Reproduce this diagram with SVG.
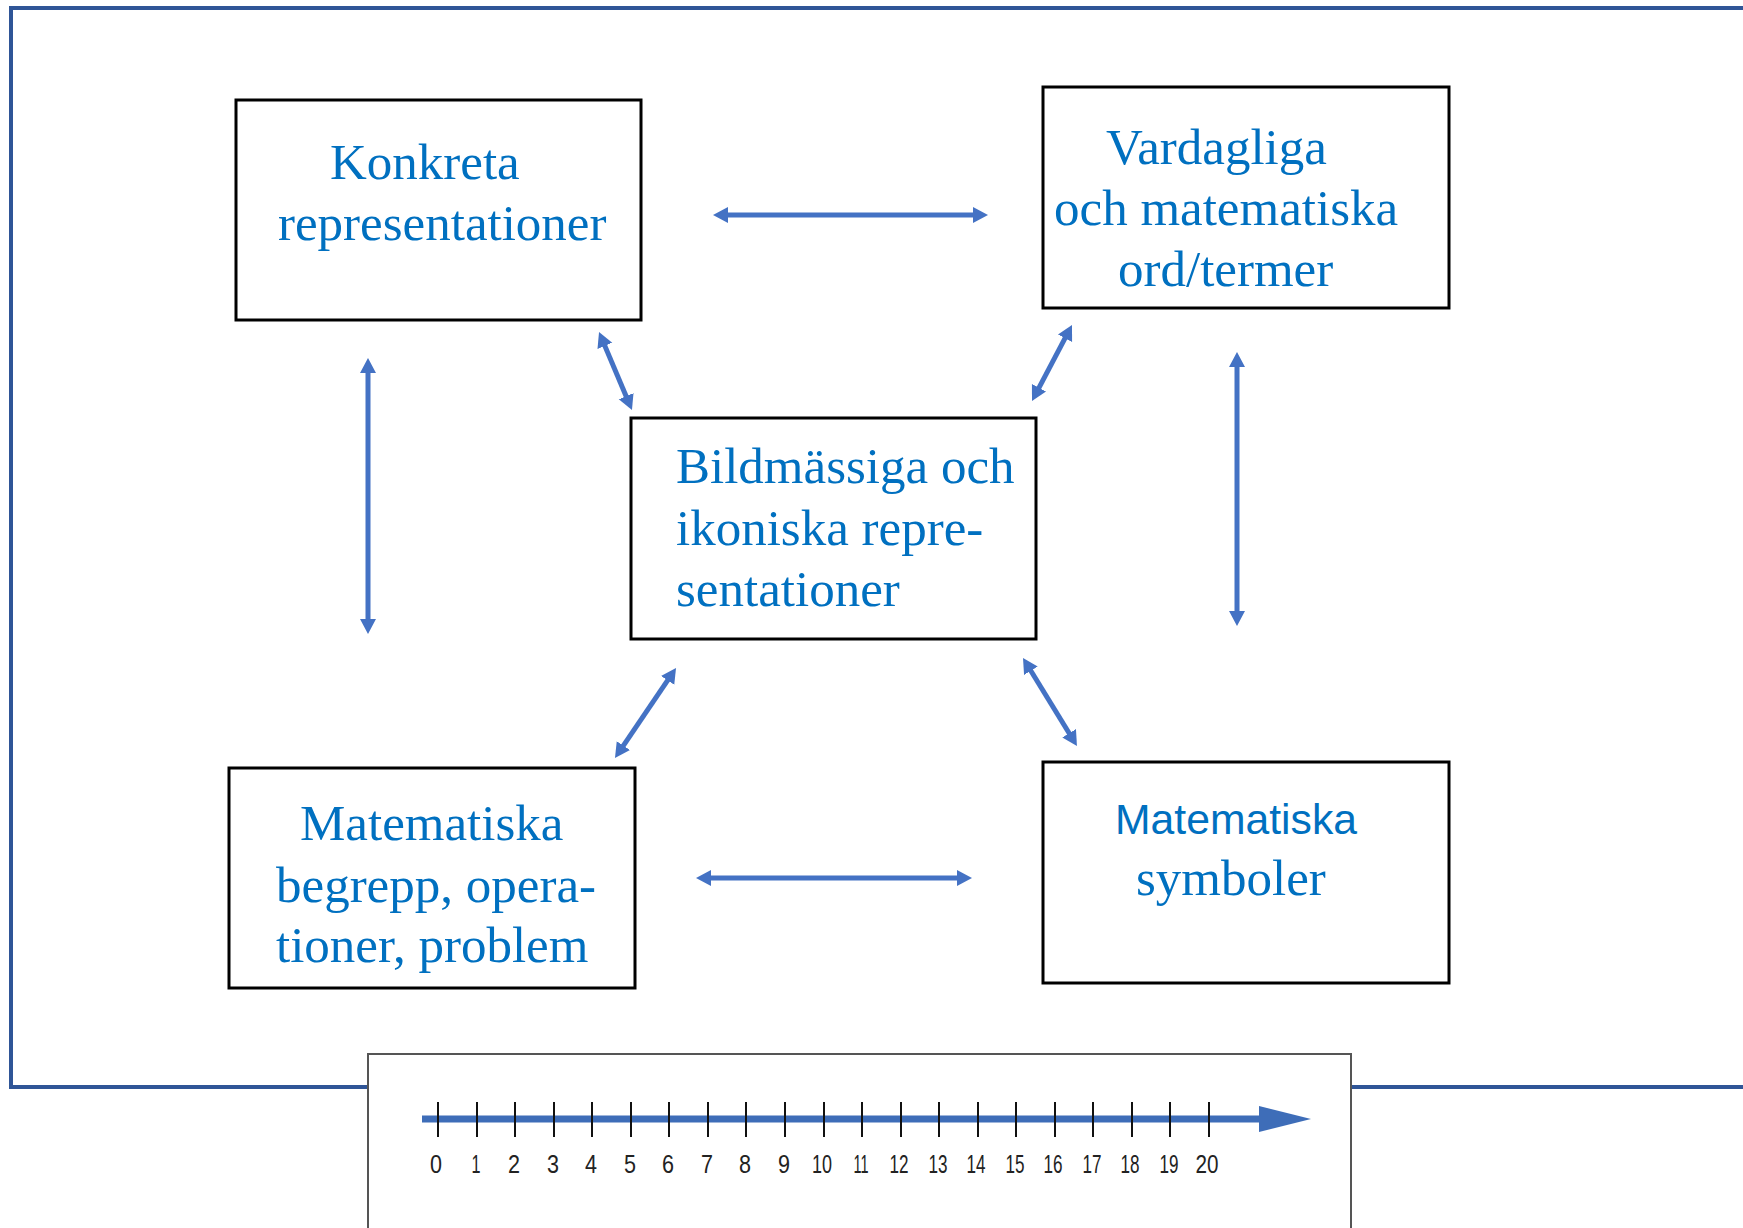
<svg xmlns="http://www.w3.org/2000/svg" width="1743" height="1228" viewBox="0 0 1743 1228">
<style>
.box{fill:#fff;stroke:#000;stroke-width:3}
.t{font-family:"Liberation Serif","Times New Roman",serif;font-size:51px;fill:#0070C0}
.ts{font-family:"Liberation Sans",Arial,sans-serif;font-size:42px;fill:#0070C0}
.con{stroke:#4472C4;stroke-width:5;fill:none;marker-start:url(#ah);marker-end:url(#ah)}
.tick{stroke:#111;stroke-width:2}
.num{font-family:"Liberation Sans",Arial,sans-serif;font-size:26px;fill:#222;text-anchor:middle}
</style>
<defs>
<marker id="ah" markerUnits="userSpaceOnUse" markerWidth="17" markerHeight="17" refX="3" refY="8" orient="auto-start-reverse">
<path d="M0,0 L15,8 L0,16 z" fill="#4472C4"/>
</marker>
</defs>
<rect x="0" y="0" width="1743" height="1228" fill="#fff"/>
<g id="frame">
<path d="M1745,8 L11,8 L11,1087 L1745,1087" fill="none" stroke="#2F5597" stroke-width="4"/>
</g>
<g id="connectors">
<line class="con" x1="725" y1="215" x2="976" y2="215"/>
<line class="con" x1="708" y1="878" x2="960" y2="878"/>
<line class="con" x1="368" y1="370" x2="368" y2="622"/>
<line class="con" x1="1237" y1="364" x2="1237" y2="614"/>
<line class="con" x1="603.7" y1="343.1" x2="627.3" y2="399.0"/>
<line class="con" x1="1066.4" y1="335.6" x2="1037.6" y2="390.4"/>
<line class="con" x1="669.3" y1="677.9" x2="621.7" y2="748.1"/>
<line class="con" x1="1029.3" y1="668.2" x2="1070.7" y2="735.8"/>
</g>
<g id="konkreta">
<rect class="box" x="236" y="100" width="405" height="220"/>
<text class="t" x="330" y="179">Konkreta</text>
<text class="t" x="278" y="240">representationer</text>
</g>
<g id="vardagliga">
<rect class="box" x="1043" y="87" width="406" height="221"/>
<text class="t" x="1106" y="164">Vardagliga</text>
<text class="t" x="1054" y="225">och matematiska</text>
<text class="t" x="1118" y="286">ord/termer</text>
</g>
<g id="bildmassiga">
<rect class="box" x="631" y="418" width="405" height="221"/>
<text class="t" x="676" y="483">Bildmässiga och</text>
<text class="t" x="676" y="545">ikoniska repre-</text>
<text class="t" x="676" y="606">sentationer</text>
</g>
<g id="begrepp">
<rect class="box" x="229" y="768" width="406" height="220"/>
<text class="t" x="300" y="840">Matematiska</text>
<text class="t" x="276" y="902">begrepp, opera-</text>
<text class="t" x="276" y="962">tioner, problem</text>
</g>
<g id="symboler">
<rect class="box" x="1043" y="762" width="406" height="221"/>
<text class="ts" x="1115" y="834" textLength="242" lengthAdjust="spacingAndGlyphs">Matematiska</text>
<text class="t" x="1136" y="895">symboler</text>
</g>
<g id="numberline">
<rect x="368" y="1054" width="983" height="190" fill="#fff" stroke="#555" stroke-width="2"/>
<line x1="422" y1="1119" x2="1262" y2="1119" stroke="#3E6DB8" stroke-width="7"/>
<path d="M1259,1106 L1311,1119 L1259,1132 z" fill="#3E6DB8"/>
<g class="tick">
<line x1="438" y1="1102" x2="438" y2="1137"/>
<line x1="477" y1="1102" x2="477" y2="1137"/>
<line x1="515" y1="1102" x2="515" y2="1137"/>
<line x1="554" y1="1102" x2="554" y2="1137"/>
<line x1="592" y1="1102" x2="592" y2="1137"/>
<line x1="631" y1="1102" x2="631" y2="1137"/>
<line x1="669" y1="1102" x2="669" y2="1137"/>
<line x1="708" y1="1102" x2="708" y2="1137"/>
<line x1="746" y1="1102" x2="746" y2="1137"/>
<line x1="785" y1="1102" x2="785" y2="1137"/>
<line x1="824" y1="1102" x2="824" y2="1137"/>
<line x1="862" y1="1102" x2="862" y2="1137"/>
<line x1="901" y1="1102" x2="901" y2="1137"/>
<line x1="939" y1="1102" x2="939" y2="1137"/>
<line x1="978" y1="1102" x2="978" y2="1137"/>
<line x1="1016" y1="1102" x2="1016" y2="1137"/>
<line x1="1055" y1="1102" x2="1055" y2="1137"/>
<line x1="1093" y1="1102" x2="1093" y2="1137"/>
<line x1="1132" y1="1102" x2="1132" y2="1137"/>
<line x1="1170" y1="1102" x2="1170" y2="1137"/>
<line x1="1209" y1="1102" x2="1209" y2="1137"/>
</g>
<text class="num" x="436" y="1173" textLength="12" lengthAdjust="spacingAndGlyphs">0</text>
<text class="num" x="476" y="1173" textLength="9" lengthAdjust="spacingAndGlyphs">1</text>
<text class="num" x="514" y="1173" textLength="12" lengthAdjust="spacingAndGlyphs">2</text>
<text class="num" x="553" y="1173" textLength="12" lengthAdjust="spacingAndGlyphs">3</text>
<text class="num" x="591" y="1173" textLength="12" lengthAdjust="spacingAndGlyphs">4</text>
<text class="num" x="630" y="1173" textLength="12" lengthAdjust="spacingAndGlyphs">5</text>
<text class="num" x="668" y="1173" textLength="12" lengthAdjust="spacingAndGlyphs">6</text>
<text class="num" x="707" y="1173" textLength="12" lengthAdjust="spacingAndGlyphs">7</text>
<text class="num" x="745" y="1173" textLength="12" lengthAdjust="spacingAndGlyphs">8</text>
<text class="num" x="784" y="1173" textLength="12" lengthAdjust="spacingAndGlyphs">9</text>
<text class="num" x="822" y="1173" textLength="20" lengthAdjust="spacingAndGlyphs">10</text>
<text class="num" x="861" y="1173" textLength="15" lengthAdjust="spacingAndGlyphs">11</text>
<text class="num" x="899" y="1173" textLength="19" lengthAdjust="spacingAndGlyphs">12</text>
<text class="num" x="938" y="1173" textLength="19" lengthAdjust="spacingAndGlyphs">13</text>
<text class="num" x="976" y="1173" textLength="19" lengthAdjust="spacingAndGlyphs">14</text>
<text class="num" x="1015" y="1173" textLength="19" lengthAdjust="spacingAndGlyphs">15</text>
<text class="num" x="1053" y="1173" textLength="19" lengthAdjust="spacingAndGlyphs">16</text>
<text class="num" x="1092" y="1173" textLength="19" lengthAdjust="spacingAndGlyphs">17</text>
<text class="num" x="1130" y="1173" textLength="19" lengthAdjust="spacingAndGlyphs">18</text>
<text class="num" x="1169" y="1173" textLength="19" lengthAdjust="spacingAndGlyphs">19</text>
<text class="num" x="1207" y="1173" textLength="23" lengthAdjust="spacingAndGlyphs">20</text>
</g>
</svg>
